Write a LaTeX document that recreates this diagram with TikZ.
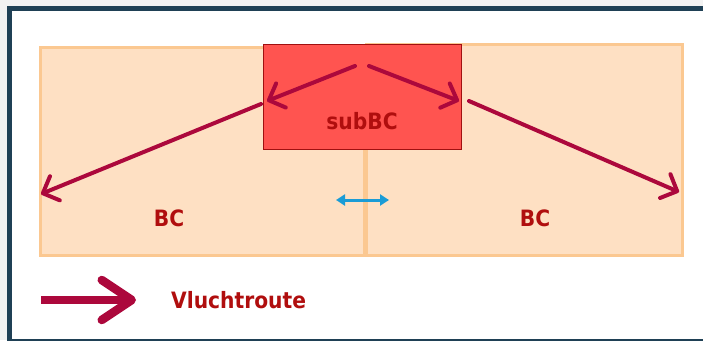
\documentclass[tikz,border=0pt]{standalone}
\usepackage{fontspec}
\setmainfont{DejaVu Sans}
\newfontfamily\condfont{DejaVu Sans Condensed}
\usetikzlibrary{arrows.meta}
\definecolor{pagebg}{RGB}{242,242,242}
\definecolor{framecol}{RGB}{31,64,85}
\definecolor{bcfill}{RGB}{254,224,195}
\definecolor{bcborder}{RGB}{251,200,145}
\definecolor{subfill}{RGB}{255,84,80}
\definecolor{subborder}{RGB}{160,16,16}
\definecolor{routecol}{RGB}{172,8,60}
\definecolor{labelcol}{RGB}{176,14,14}
\definecolor{linkcol}{RGB}{26,156,214}
\tikzset{
  bcbox/.style={draw=bcborder, fill=bcfill, line width=3pt, inner sep=0pt},
  subbox/.style={draw=subborder, fill=subfill, line width=0.8pt, inner sep=0pt},
  lbl/.style={text=labelcol, font=\condfont\bfseries\fontsize{22.5}{26}\selectfont, inner sep=0pt},
  route/.style={draw=routecol, line width=4pt, line cap=round, line join=round,
    -{Straight Barb[length=13pt, width=26pt, line cap=round, line join=round]}},
  legendroute/.style={draw=routecol, line width=8.5pt, line cap=butt, line join=round,
    -{Straight Barb[length=30pt, width=40pt, line cap=round, line join=round]}},
  link/.style={draw=linkcol, line width=3pt, {Triangle[length=9pt,width=11pt]}-{Triangle[length=9pt,width=11pt]}}
}
\begin{document}
\begin{tikzpicture}[x=1pt, y=-1pt]
\useasboundingbox (0,0) rectangle (703,340);
\fill[pagebg] (0,0) rectangle (703,340);
\draw[framecol, line width=5pt, fill=white] (9.5,8.5) rectangle (712,341.5);
% BC boxes
\node[bcbox, minimum width=324pt, minimum height=208pt, anchor=north west] (bcl) at (38.5,45.5) {};
\node[bcbox, minimum width=316pt, minimum height=211pt, anchor=north west] (bcr) at (365,42.5) {};
% subBC box
\node[subbox, minimum width=198pt, minimum height=105pt, anchor=north west] (sub) at (263,44) {};
% labels
\node[lbl] (tsub) at (362,121) {subBC};
\node[lbl] (tbcl) at (169,218) {BC};
\node[lbl] (tbcr) at (535,218) {BC};
\node[lbl, anchor=west] (tleg) at (171,300) {Vluchtroute};
% route coordinates
\coordinate (a1s) at (355,66);
\coordinate (a1e) at (267,101);
\coordinate (a2s) at (369,66);
\coordinate (a2e) at (459,101);
\coordinate (a3s) at (261,104);
\coordinate (a3e) at (41,194);
\coordinate (a4s) at (469,101);
\coordinate (a4e) at (679,192);
\coordinate (ls) at (41,300);
\coordinate (le) at (136,300);
\coordinate (cl) at (336,200);
\coordinate (cr) at (389,200);
% routes
\draw[route] (a1s) -- (a1e);
\draw[route] (a2s) -- (a2e);
\draw[route] (a3s) -- (a3e);
\draw[route] (a4s) -- (a4e);
\draw[legendroute] (ls) -- (le);
\draw[link] (cl) -- (cr);
\end{tikzpicture}
\end{document}
